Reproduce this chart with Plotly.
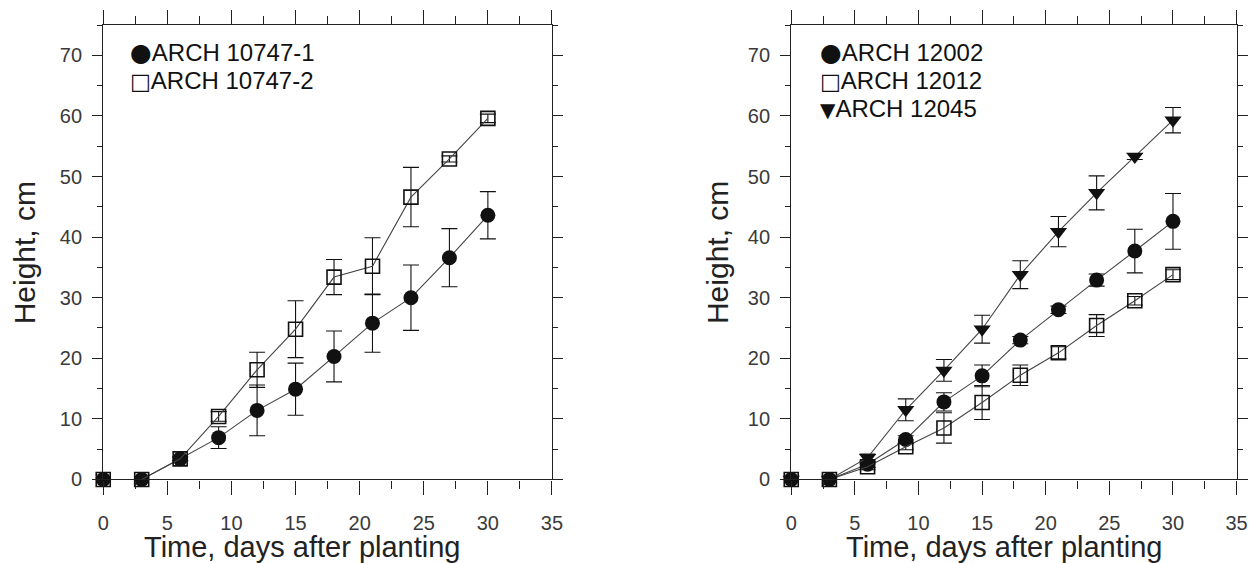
import plotly.graph_objects as go

# ---------------- data ----------------
days = [0, 3, 6, 9, 12, 15, 18, 21, 24, 27, 30]

# left panel
h_10747_1 = [0, 0, 3.4, 6.9, 11.4, 14.9, 20.3, 25.8, 30.0, 36.6, 43.6]
e_10747_1 = [0, 0, 0.3, 1.8, 4.2, 4.3, 4.2, 4.8, 5.4, 4.8, 3.9]
h_10747_2 = [0, 0, 3.4, 10.4, 18.1, 24.8, 33.4, 35.2, 46.6, 52.9, 59.6]
e_10747_2 = [0, 0, 0.3, 0.8, 2.9, 4.7, 2.9, 4.7, 4.9, 0.5, 0.7]

# right panel
h_12002 = [0, 0, 2.5, 6.6, 12.8, 17.1, 23.0, 28.0, 32.9, 37.7, 42.6]
e_12002 = [0, 0, 0.5, 0.6, 1.5, 1.8, 0.6, 0.6, 1.0, 3.6, 4.6]
h_12012 = [0, 0, 2.1, 5.4, 8.5, 12.7, 17.2, 20.9, 25.4, 29.5, 33.8]
e_12012 = [0, 0, 0.5, 0.5, 2.5, 2.8, 1.7, 1.0, 1.8, 0.7, 0.8]
h_12045 = [0, 0, 3.6, 11.5, 18.0, 24.8, 33.8, 40.9, 47.3, 53.3, 59.3]
e_12045 = [0, 0, 0.6, 1.8, 1.8, 2.3, 2.3, 2.5, 2.8, 0.5, 2.1]

x_ticks = [0, 5, 10, 15, 20, 25, 30, 35]
y_ticks = [0, 10, 20, 30, 40, 50, 60, 70]
x_title = "Time, days after planting"
y_title = "Height, cm"

FONT = "Liberation Sans, Arial, sans-serif"
SYMFONT = "DejaVu Sans"
INK = "#111111"
LINE = "#444444"

W, H = 1270, 575
REF_W, REF_H = 1259, 563


def px(x):
    return x / REF_W


def py(y):
    return 1 - y / REF_H


fig = go.Figure()


def add_series(xa, ya, ys, errs, symbol, filled):
    fig.add_trace(go.Scatter(
        x=days, y=ys, xaxis=xa, yaxis=ya,
        mode="lines+markers",
        line=dict(color=LINE, width=1.1),
        marker=dict(
            symbol=symbol,
            size=15 if symbol != "square-open" else 14,
            color=INK,
            line=dict(color=INK, width=1.6 if not filled else 0),
        ),
        error_y=dict(type="data", array=errs, visible=True,
                     color=INK, thickness=1.1, width=8),
        cliponaxis=False,
        showlegend=False,
    ))


add_series("x", "y", h_10747_1, e_10747_1, "circle", True)
add_series("x", "y", h_10747_2, e_10747_2, "square-open", False)
add_series("x2", "y2", h_12002, e_12002, "circle", True)
add_series("x2", "y2", h_12012, e_12012, "square-open", False)
add_series("x2", "y2", h_12045, e_12045, "triangle-down", True)


def xaxis(domain):
    return dict(
        domain=domain, range=[0, 35], tickvals=x_ticks,
        showline=True, linecolor="#222", linewidth=1.3, mirror="ticks",
        ticks="outside", ticklen=14, tickwidth=1.3, tickcolor="#222",
        minor=dict(ticks="outside", ticklen=8, dtick=2.5, tick0=0,
                   tickwidth=1.3, tickcolor="#222"),
        showgrid=False, zeroline=False,
        tickfont=dict(family=FONT, size=20, color="#3a3a3a"),
        ticklabelstandoff=11,
    )


def yaxis(anchor):
    return dict(
        domain=[py(478.6), py(25)], range=[0, 75], tickvals=y_ticks,
        anchor=anchor,
        showline=True, linecolor="#222", linewidth=1.3, mirror="ticks",
        ticks="outside", ticklen=10, tickwidth=1.3, tickcolor="#222",
        minor=dict(ticks="outside", ticklen=5, dtick=5, tick0=0,
                   tickwidth=1.3, tickcolor="#222"),
        showgrid=False, zeroline=False,
        tickfont=dict(family=FONT, size=20, color="#3a3a3a"),
        ticklabelstandoff=6,
    )


fig.update_layout(
    width=W, height=H,
    margin=dict(l=0, r=0, t=0, b=0),
    paper_bgcolor="white", plot_bgcolor="white",
    xaxis=dict(xaxis([px(97.7), px(548.6)]), anchor="y"),
    yaxis=yaxis("x"),
    xaxis2=dict(xaxis([px(789.0), px(1236.5)]), anchor="y2"),
    yaxis2=yaxis("x2"),
)

annotations = []
# axis titles
for cx, cy_title, yx in [(297, 546, 19), (1003, 546, 715)]:
    annotations.append(dict(
        text=x_title, xref="paper", yref="paper",
        x=px(cx), y=py(cy_title), xanchor="center", yanchor="middle",
        showarrow=False, font=dict(family=FONT, size=29, color="#222")))
    annotations.append(dict(
        text=y_title, xref="paper", yref="paper", textangle=-90,
        x=px(yx), y=py(252), xanchor="center", yanchor="middle",
        showarrow=False, font=dict(family=FONT, size=30, color="#222")))

# legends (symbol glyph + series name)
SYM_SIZE = {"●": 25, "□": 22, "▼": 20}
legend_left = [("●", "ARCH 10747-1"), ("□", "ARCH 10747-2")]
legend_right = [("●", "ARCH 12002"), ("□", "ARCH 12012"), ("▼", "ARCH 12045")]
for x0, items in [(123, legend_left), (816, legend_right)]:
    for i, (sym, name) in enumerate(items):
        txt = ("<span style='font-family:%s;font-size:%dpx'>%s</span>%s"
               % (SYMFONT, SYM_SIZE[sym], sym, name))
        annotations.append(dict(
            text=txt, xref="paper", yref="paper",
            x=px(x0), y=py(52 + 28 * i), xanchor="left", yanchor="middle",
            showarrow=False, font=dict(family=FONT, size=24, color="#111")))

fig.update_layout(annotations=annotations)

fig.write_html(
    "out.html",
    config={"displayModeBar": False},
    post_script=("document.body.style.margin='0';"
                 "document.documentElement.style.overflow='hidden';"
                 "document.body.style.overflow='hidden';"),
)
